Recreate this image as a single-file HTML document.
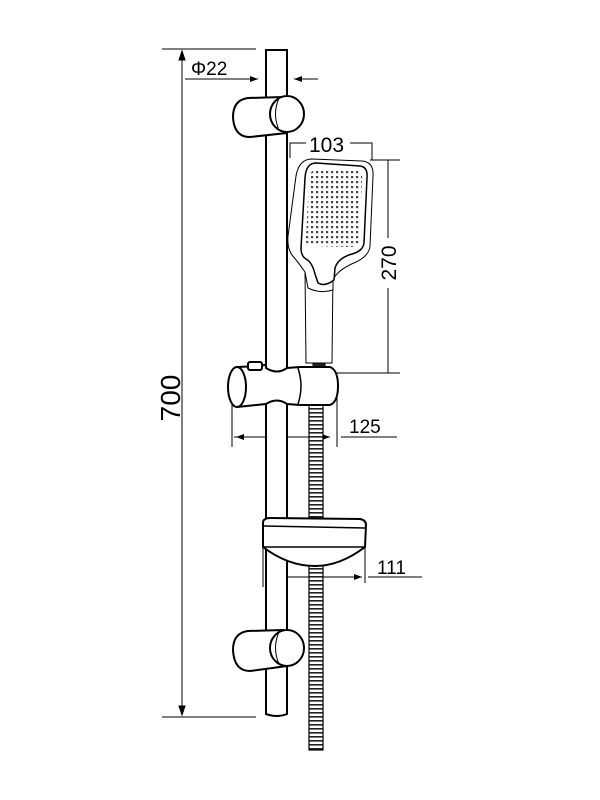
<!DOCTYPE html>
<html><head><meta charset="utf-8"><style>html,body{margin:0;padding:0;background:#fff}svg{display:block}</style></head>
<body>
<svg width="600" height="800" viewBox="0 0 600 800" xmlns="http://www.w3.org/2000/svg" font-family="Liberation Sans, sans-serif">
<defs>
<pattern id="dots" x="0" y="0" width="5" height="5" patternUnits="userSpaceOnUse">
<rect x="1" y="1" width="2.2" height="2.2" fill="#444"/>
</pattern>
<pattern id="hose" x="0" y="0" width="14" height="4" patternUnits="userSpaceOnUse">
<rect width="14" height="4" fill="#fff"/><rect y="0" width="14" height="1.6" fill="#222"/>
</pattern>
<marker id="ar" markerWidth="8" markerHeight="6" refX="8" refY="3" orient="auto" markerUnits="userSpaceOnUse"><path d="M0,0 L8,3 L0,6z" fill="#000"/></marker>
</defs>
<g fill="none" stroke="#000" stroke-width="1">
<line x1="162" y1="49" x2="256" y2="49"/>
<line x1="162" y1="717" x2="256" y2="717"/>
<line x1="182" y1="60" x2="182" y2="706" />
<path d="M182,51 l-3,9 h6z M182,715 l-3,-9 h6z" fill="#000"/>
<line x1="185" y1="79" x2="258" y2="79" marker-end="url(#ar)"/>
<line x1="318" y1="79" x2="294" y2="79" marker-end="url(#ar)"/>
<polyline points="290,158 290,143 306,143"/>
<polyline points="350,143 372,143 372,160"/>
<line x1="370" y1="160" x2="400" y2="160"/>
<line x1="326" y1="373" x2="400" y2="373"/>
<line x1="388" y1="160" x2="388" y2="238"/>
<line x1="388" y1="288" x2="388" y2="373"/>
<line x1="232" y1="405" x2="232" y2="447"/>
<line x1="337" y1="395" x2="337" y2="447"/>
<line x1="234" y1="437" x2="330" y2="437" marker-end="url(#ar)"/>
<line x1="330" y1="437" x2="236" y2="437" marker-end="url(#ar)"/>
<line x1="341" y1="437" x2="397" y2="437"/>
<line x1="263" y1="548" x2="263" y2="587"/>
<line x1="365" y1="548" x2="365" y2="583"/>
<line x1="267" y1="577" x2="362" y2="577" marker-end="url(#ar)"/>
<line x1="362" y1="577" x2="266" y2="577" marker-end="url(#ar)"/>
<line x1="368" y1="577" x2="422" y2="577"/>
</g>
<rect x="309" y="405" width="14" height="345" fill="url(#hose)" stroke="#000" stroke-width="1.2"/>
<g fill="#fff" stroke="#000" stroke-width="2">
<path d="M266,50 H287 V714 Q277,718 266,714 Z"/>
<path d="M283,97 L248,98 Q233,100 233,117 Q234,137 250,137 L287,133 Z"/>
<ellipse cx="287" cy="114" rx="17" ry="18"/>
<path d="M279,98 Q272,114 279,130" fill="none" stroke-width="1"/>
<path d="M283,630 L248,631 Q233,633 233,650 Q234,671 250,671 L287,666 Z"/>
<ellipse cx="287" cy="648" rx="17" ry="18"/>
<path d="M279,632 Q272,648 279,664" fill="none" stroke-width="1"/>
<path d="M305,270 L306,363 H332 L333,270 Z" stroke-width="1"/>
<rect x="313" y="363" width="12" height="8" fill="#222" stroke-width="1"/>
<path d="M312,159 L362,161 Q374,162 373,176 L370,246 Q369,256 356,262 Q337,270 333,280 L333,290 Q320,294 308,288 L305,272 Q298,262 292,255 Q287,248 288,236 L296,176 Q299,159 312,159 Z" stroke-width="1"/>
<path d="M316,163 L360,166 Q368,167 367,178 L364,243 Q363,251 352,254 Q338,258 335,268 L334,280 Q325,287 318,283 L315,274 Q312,262 306,259 Q301,256 301,248 L305,178 Q306,163 316,163 Z" stroke-width="1.5"/>
<path d="M318,169 L358,171 Q363,172 362,180 L359,240 Q358,247 351,247 L312,246 Q305,246 306,238 L309,180 Q310,169 318,169 Z" fill="url(#dots)" stroke="none"/>
<path d="M237,367 L262,366 Q266,363 266,368 Q277,375 287,368 L300,367 L330,367 Q338,370 338,386 Q338,402 330,405 L300,405 L287,404 Q277,397 266,404 L237,407 Z"/>
<ellipse cx="237" cy="387" rx="9" ry="20"/>
<path d="M298,368 Q304,386 298,404" fill="none" stroke-width="1.5"/>
<rect x="248" y="362" width="14" height="8" rx="2"/>
<path d="M263,522 Q264,518 270,518 L360,519 Q366,520 366,525 L365,547 Q340,566 315,566 Q288,566 263,547 Z"/>
<line x1="264" y1="526" x2="365" y2="528" stroke-width="1.5"/>
<line x1="264" y1="547" x2="365" y2="547" stroke-width="1.5"/>
</g>
<g fill="#000" font-size="19">
<text x="191" y="75">Φ22</text>
<text x="309" y="152" font-size="21">103</text>
<text x="349" y="433">125</text>
<text x="377" y="574">111</text>
<text transform="translate(396,263) rotate(-90)" text-anchor="middle" font-size="21">270</text>
<text transform="translate(180,398) rotate(-90)" text-anchor="middle" font-size="28">700</text>
</g>
</svg>
</body></html>
